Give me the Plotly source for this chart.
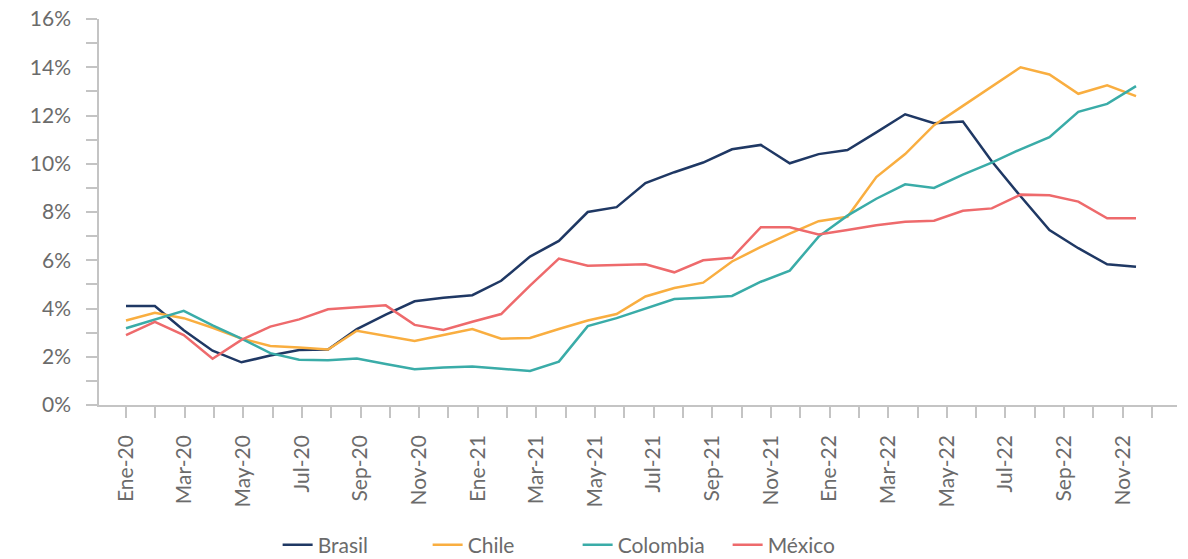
import plotly.graph_objects as go

# Meses Ene-20 a Dic-22
meses = ['Ene-20', 'Feb-20', 'Mar-20', 'Abr-20', 'May-20', 'Jun-20', 'Jul-20', 'Ago-20',
         'Sep-20', 'Oct-20', 'Nov-20', 'Dic-20',
         'Ene-21', 'Feb-21', 'Mar-21', 'Abr-21', 'May-21', 'Jun-21', 'Jul-21', 'Ago-21',
         'Sep-21', 'Oct-21', 'Nov-21', 'Dic-21',
         'Ene-22', 'Feb-22', 'Mar-22', 'Abr-22', 'May-22', 'Jun-22', 'Jul-22', 'Ago-22',
         'Sep-22', 'Oct-22', 'Nov-22', 'Dic-22']

brasil = [4.10, 4.10, 3.10, 2.25, 1.77, 2.05, 2.28, 2.30, 3.15, 3.75, 4.30, 4.45,
          4.55, 5.15, 6.15, 6.80, 8.00, 8.20, 9.20, 9.65, 10.05, 10.60, 10.78, 10.02,
          10.40, 10.57, 11.30, 12.05, 11.68, 11.75, 10.10, 8.65, 7.25, 6.50, 5.83, 5.73]

chile = [3.50, 3.82, 3.60, 3.20, 2.75, 2.45, 2.38, 2.30, 3.08, 2.85, 2.65, 2.90,
         3.15, 2.75, 2.78, 3.15, 3.50, 3.77, 4.50, 4.85, 5.07, 5.95, 6.55, 7.10,
         7.62, 7.80, 9.45, 10.40, 11.60, 12.40, 13.20, 14.00, 13.70, 12.90, 13.25, 12.80]

colombia = [3.18, 3.55, 3.90, 3.30, 2.75, 2.15, 1.88, 1.86, 1.93, 1.70, 1.48, 1.55,
            1.60, 1.50, 1.41, 1.80, 3.27, 3.60, 4.00, 4.39, 4.45, 4.52, 5.11, 5.57,
            6.98, 7.85, 8.55, 9.15, 9.00, 9.55, 10.05, 10.60, 11.10, 12.15, 12.48, 13.22]

mexico = [2.90, 3.45, 2.90, 1.92, 2.70, 3.25, 3.55, 3.97, 4.05, 4.13, 3.32, 3.11,
          3.45, 3.77, 4.95, 6.07, 5.77, 5.80, 5.83, 5.50, 6.00, 6.10, 7.37, 7.37,
          7.07, 7.25, 7.45, 7.60, 7.64, 8.05, 8.15, 8.72, 8.69, 8.43, 7.74, 7.74]

series = [('Brasil', brasil, '#1f3864'),
          ('Chile', chile, '#f9ae40'),
          ('Colombia', colombia, '#3aaca8'),
          ('México', mexico, '#ee6a6c')]

etiquetas = [m if i % 2 == 0 else '' for i, m in enumerate(meses)]
idx = list(range(len(meses)))

gris = '#6b6b6b'
eje = '#c4c4c4'
fuente = 'Lato'

fig = go.Figure()
for nombre, valores, color in series:
    fig.add_trace(go.Scatter(
        x=idx,
        y=valores,
        name=nombre,
        mode='lines',
        line=dict(color=color, width=2.5),
    ))

# traza vacia para que se dibuje el eje de meses
fig.add_trace(go.Scatter(
    x=idx, y=[None] * len(idx), xaxis='x2', yaxis='y',
    mode='lines', showlegend=False, hoverinfo='skip',
))

fig.update_layout(
    width=1188, height=559,
    margin=dict(l=99, r=11, t=19, b=154, autoexpand=False),
    plot_bgcolor='white', paper_bgcolor='white',
    font=dict(family=fuente, size=18, color=gris),
    showlegend=True,
    legend=dict(orientation='h', x=0.444, xanchor='center',
                y=-0.363, yanchor='middle',
                font=dict(size=21, color=gris),
                entrywidth=105, entrywidthmode='pixels',
                traceorder='normal'),
    xaxis=dict(range=[-0.936, 36.42], showticklabels=False, showline=False,
               ticks='', showgrid=False, zeroline=False, automargin=False),
    xaxis2=dict(overlaying='x', anchor='y', side='bottom',
                range=[-0.92, 35.85], automargin=False,
                tickmode='array', tickvals=idx, ticktext=etiquetas,
                tickangle=-90, ticks='outside', ticklen=11, tickwidth=1.5,
                tickcolor=eje, showline=True, linecolor=eje, linewidth=1.5,
                showgrid=False, zeroline=False, ticklabelstandoff=9,
                ticklabeloverflow='allow',
                tickfont=dict(family=fuente, size=21, color=gris)),
    yaxis=dict(range=[0, 16], dtick=2, ticksuffix='%', ticks='outside',
               ticklen=11, tickwidth=1.5, tickcolor=eje, automargin=False,
               minor=dict(dtick=1, ticks='outside', ticklen=11, tickwidth=1.5, tickcolor=eje),
               showline=True, linecolor=eje, linewidth=1.5,
               showgrid=False, zeroline=False, ticklabelstandoff=11,
               ticklabeloverflow='allow',
               tickfont=dict(family=fuente, size=21, color=gris)),
)

# sin el margen por defecto del body
fig.write_html('out.html', config={'displayModeBar': False},
               post_script="document.body.style.margin='0px';")
